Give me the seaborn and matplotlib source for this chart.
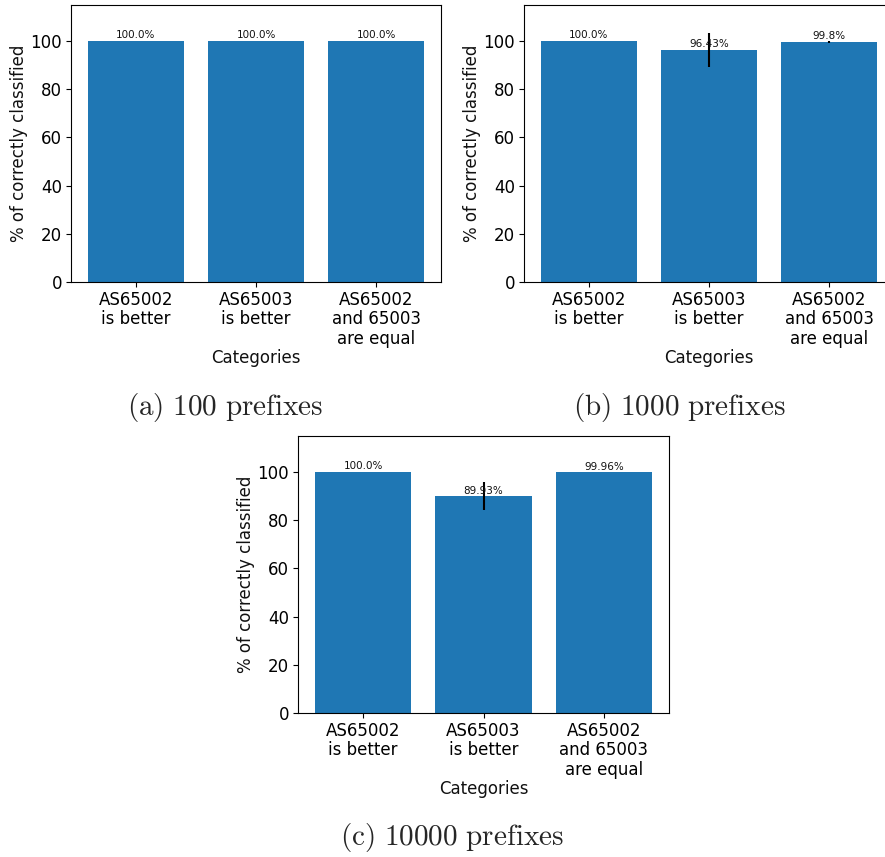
import matplotlib
matplotlib.use("Agg")
import matplotlib.pyplot as plt
import seaborn as sns
import pandas as pd

categories = ["AS65002\nis better", "AS65003\nis better", "AS65002\nand 65003\nare equal"]
values_100 = [100.0, 100.0, 100.0]
errors_100 = [0.0, 0.0, 0.0]
values_1000 = [100.0, 96.43, 99.8]
errors_1000 = [0.0, 7.0, 0.4]
values_10000 = [100.0, 89.93, 99.96]
errors_10000 = [0.0, 5.8, 0.1]
captions = ["(a) 100 prefixes", "(b) 1000 prefixes", "(c) 10000 prefixes"]

sns.set_style("white")
plt.rcParams["font.family"] = ["DejaVu Sans"]
plt.rcParams["mathtext.fontset"] = "cm"

W, H = 885, 857
fig = plt.figure(figsize=(W / 100, H / 100), dpi=100)

def rect(x0, y0, x1, y1):
    return [x0 / W, 1 - y1 / H, (x1 - x0) / W, (y1 - y0) / H]

panels = [
    (rect(71, 5, 441, 282), values_100, errors_100, captions[0], (225, 407)),
    (rect(524, 5, 894, 282), values_1000, errors_1000, captions[1], (679, 407)),
    (rect(298, 436, 669, 713), values_10000, errors_10000, captions[2], (452, 838)),
]

for r, vals, errs, cap, cpos in panels:
    ax = fig.add_axes(r)
    df = pd.DataFrame({"cat": categories, "val": vals})
    sns.barplot(data=df, x="cat", y="val", color="#1f77b4", saturation=1,
                linewidth=0, width=0.8, ax=ax, errorbar=None)
    xs = list(range(len(categories)))
    ax.errorbar(xs, vals, yerr=errs, fmt="none", ecolor="black", elinewidth=1.5, capsize=0)
    for x, v in zip(xs, vals):
        ax.text(x, v + 0.3, f"{v}%", ha="center", va="bottom", fontsize=7.5, color="#111111")
    ax.set_xlim(-0.54, 2.54)
    ax.set_ylim(0, 115)
    ax.set_yticks([0, 20, 40, 60, 80, 100])
    ax.tick_params(axis="both", labelsize=12, length=3.5, width=0.8, direction="out",
                   bottom=True, left=True, colors="black", pad=3)
    for lbl in ax.get_xticklabels():
        lbl.set_linespacing(1.1)
    ax.set_xlabel("Categories", fontsize=12, labelpad=1, color="#111111")
    ax.set_ylabel("% of correctly classified", fontsize=12, labelpad=1.5, color="#111111")
    for s in ax.spines.values():
        s.set_visible(True)
        s.set_color("black")
        s.set_linewidth(0.8)
    label = cap.replace(" ", r"\ ")
    fig.text(cpos[0] / W, 1 - cpos[1] / H, r"$\mathrm{" + label + "}$",
             ha="center", va="center", fontsize=21)

fig.savefig("out.png", dpi=100)
